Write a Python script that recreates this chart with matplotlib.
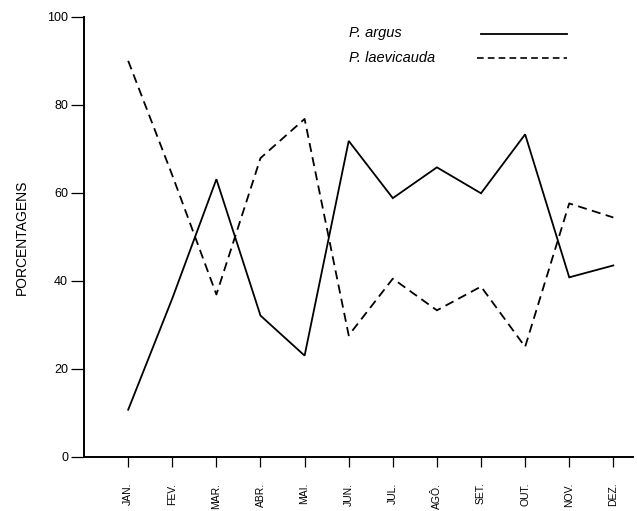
import numpy as np
import matplotlib
matplotlib.use("Agg")
import matplotlib.pyplot as plt

# dados (porcentagens mensais)
meses = ["JAN.", "FEV.", "MAR.", "ABR.", "MAI.", "JUN.", "JUL.", "AGÔ.", "SET.", "OUT.", "NOV.", "DEZ."]
argus = [10.7, 36, 63.1, 32.1, 23.0, 71.8, 58.8, 65.8, 59.9, 73.3, 40.8, 43.5]
laevicauda = [90, 64, 36.9, 67.9, 76.8, 27.6, 40.5, 33.3, 38.7, 25.0, 57.6, 54.4]
yticks = [0, 20, 40, 60, 80, 100]

plt.rcParams['font.family'] = ['Liberation Sans', 'DejaVu Sans']

fig = plt.figure(figsize=(6.37, 5.11), dpi=100)
ax = fig.add_axes([0.132, 0.106, 0.862, 0.861])

x = np.arange(len(meses))
ax.plot(x, argus, color="black", lw=1.3, solid_joinstyle="miter")
ax.plot(x, laevicauda, color="black", lw=1.3, dashes=(5, 3))

ax.set_xlim(-1, 11.45)
ax.set_ylim(0, 100)
ax.set_xticks(x)
ax.set_xticklabels(meses, rotation=90, fontsize=7.5)
ax.set_yticks(yticks)
ax.set_yticklabels([str(v) for v in yticks], fontsize=9)
ax.tick_params(axis="y", direction="out", length=9.5, width=0.9, color="black", pad=2)
ax.tick_params(axis="x", direction="out", length=7.5, width=0.9, color="black", pad=11)
ax.set_ylabel("PORCENTAGENS", fontsize=10, labelpad=13)

for s in ["top", "right"]:
    ax.spines[s].set_visible(False)
for s in ["left", "bottom"]:
    ax.spines[s].set_linewidth(1.4)

# legenda desenhada a mao, como no original
ax.text(5.0, 96.4, "P. argus", fontsize=10.5, style="italic", va="center")
ax.text(5.0, 90.6, "P. laevicauda", fontsize=10.5, style="italic", va="center")
ax.plot([8.0, 9.95], [96.2, 96.2], color="black", lw=1.3)
ax.plot([7.9, 9.95], [90.6, 90.6], color="black", lw=1.2, dashes=(4, 2.5))

fig.savefig("out.png", dpi=100)
